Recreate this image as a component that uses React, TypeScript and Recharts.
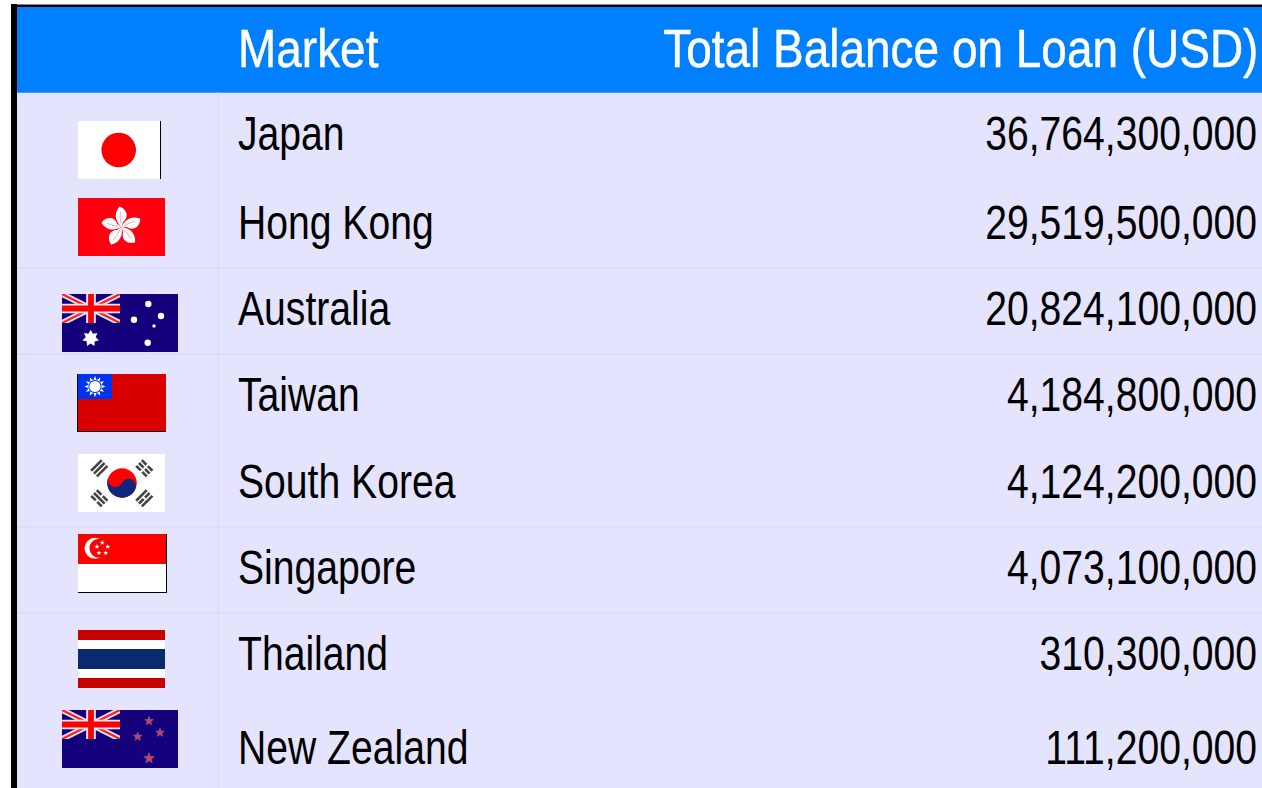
import React from 'react';
import { BarChart, Bar, XAxis, YAxis } from 'recharts';

const markets = ['Japan', 'Hong Kong', 'Australia', 'Taiwan', 'South Korea', 'Singapore', 'Thailand', 'New Zealand'];
const balances = [36764300000, 29519500000, 20824100000, 4184800000, 4124200000, 4073100000, 310300000, 111200000];

const tableData = markets.map((market, i) => ({ market, balance: balances[i] }));

const FONT = '"Liberation Sans", Arial, sans-serif';
const ROW_BG = '#E4E4FF';
const RULE = '#D6D6FA';
const NAVY = '#14007A';
// no narrow font on the box, so squeeze the regular one
const SQUEEZE = 0.815;
const HEAD_SQUEEZE = 0.851;

// the source table has uneven rows, these nudge things off the band centre
const TEXT_NUDGE = [14, 16, 15, 14, 14, 13, 12, 19];
const RULE_NUDGE = [0, 2, 1, 0, 0, -1, 0, 0];
const SHOW_RULE = [false, true, true, false, true, true, false, false];
const FLAG_BOX = [
  { x: 78, w: 83, dy: 14.5 },
  { x: 78, w: 87, dy: 4.5 },
  { x: 62, w: 116, dy: 13.5 },
  { x: 77, w: 89, dy: 6.5 },
  { x: 78, w: 87, dy: -0.5 },
  { x: 78, w: 89, dy: -7.5 },
  { x: 78, w: 87, dy: 1.5 },
  { x: 62, w: 116, dy: -5.5 },
];

const starPoints = (cx: number, cy: number, r: number, n = 5, inner = 0.42) => {
  const pts: string[] = [];
  for (let i = 0; i < n * 2; i++) {
    const rad = i % 2 === 0 ? r : r * inner;
    const a = -Math.PI / 2 + (i * Math.PI) / n;
    pts.push(`${cx + rad * Math.cos(a)},${cy + rad * Math.sin(a)}`);
  }
  return pts.join(' ');
};

const UnionJack = () => (
  <svg x={0} y={0} width={58} height={29} viewBox="0 0 60 30">
    <rect width={60} height={30} fill={NAVY} />
    <path d="M0,0 L60,30 M60,0 L0,30" stroke="#F4E6EE" strokeWidth={6} />
    <path d="M0,0 L60,30 M60,0 L0,30" stroke="#FF2020" strokeWidth={2.4} />
    <path d="M30,0 V30 M0,15 H60" stroke="#F4E6EE" strokeWidth={10} />
    <path d="M30,0 V30 M0,15 H60" stroke="#FF0000" strokeWidth={6} />
  </svg>
);

const Japan = () => (
  <>
    <rect width={82} height={58} fill="#fff" />
    <rect x={82} width={1} height={58} fill="#000" />
    <circle cx={40.7} cy={29} r={17.3} fill="#FF0000" />
  </>
);

const HongKong = () => (
  <>
    <rect width={87} height={58} fill="#FF0010" />
    <g transform="translate(43.5,29)">
      {[0, 1, 2, 3, 4].map(i => (
        <g key={i} transform={`rotate(${72 * i - 3})`}>
          <path d="M0,0 C-5,-5 -8,-13 -1,-20.5 C7,-17 8,-9 2,-5 Z" fill="#fff" />
          <path d="M0,-3 C-1,-8 -1,-12 0,-15" stroke="#F7A0B0" strokeWidth={0.9} fill="none" />
        </g>
      ))}
    </g>
  </>
);

const Australia = () => (
  <>
    <rect width={116} height={58} fill={NAVY} />
    <UnionJack />
    <polygon points={starPoints(28.7, 44.3, 8.5, 7, 0.6)} fill="#fff" />
    <circle cx={86.3} cy={10} r={3.2} fill="#fff" />
    <circle cx={72} cy={25.7} r={3.2} fill="#fff" />
    <circle cx={99} cy={22} r={3.2} fill="#fff" />
    <circle cx={92} cy={32} r={1.7} fill="#fff" />
    <circle cx={85.7} cy={48.7} r={3.2} fill="#fff" />
  </>
);

const Taiwan = () => (
  <>
    <rect width={89} height={58} fill="#D80000" />
    <rect x={1} width={34} height={25} fill="#0033EE" />
    <rect width={1} height={58} fill="#000" />
    <rect y={57} width={89} height={1} fill="#000" />
    <polygon points={starPoints(18, 12.5, 10.5, 12, 0.62)} fill="#fff" />
    <circle cx={18} cy={12.5} r={6.6} fill="#0033EE" />
    <circle cx={18} cy={12.5} r={5.6} fill="#fff" />
  </>
);

const TRIGRAMS = [
  { cx: 21.3, cy: 14.3, angle: -45, broken: [false, false, false] },
  { cx: 66.3, cy: 14.3, angle: 45, broken: [true, true, true] },
  { cx: 21.3, cy: 44.3, angle: 45, broken: [true, false, true] },
  { cx: 66.3, cy: 44.3, angle: -45, broken: [false, true, false] },
];

const SouthKorea = () => (
  <>
    <rect width={87} height={58} fill="#fff" />
    <g transform="rotate(25 44 29)">
      <circle cx={44} cy={29} r={14.7} fill="#FF0000" />
      <path d="M29.3,29 A14.7,14.7 0 0 0 58.7,29 A7.35,7.35 0 0 0 44,29 A7.35,7.35 0 0 1 29.3,29 Z" fill="#10267A" />
    </g>
    {TRIGRAMS.map((t, i) => (
      <g key={i} transform={`translate(${t.cx},${t.cy}) rotate(${t.angle})`}>
        {t.broken.map((b, j) => (
          <path key={j} d={`M-7.5,${j * 4 - 4} H7.5`} stroke="#444" strokeWidth={2.6} strokeDasharray={b ? '6.5 2 6.5' : undefined} />
        ))}
      </g>
    ))}
  </>
);

const Singapore = () => (
  <>
    <rect width={89} height={59} fill="#fff" />
    <rect width={89} height={30} fill="#FF0000" />
    <rect x={88} width={1} height={59} fill="#000" />
    <rect y={58} width={89} height={1} fill="#000" />
    <circle cx={17} cy={14.3} r={10.5} fill="#fff" />
    <circle cx={21} cy={14.3} r={9.5} fill="#FF0000" />
    {[[24.3, 8.7], [29.7, 12.7], [27.7, 19], [21, 19], [19, 12.7]].map(([cx, cy], i) => (
      <polygon key={i} points={starPoints(cx, cy, 2.6)} fill="#fff" />
    ))}
  </>
);

const Thailand = () => (
  <>
    <rect width={87} height={58} fill="#C80000" />
    <rect y={10} width={87} height={38} fill="#fff" />
    <rect y={19} width={87} height={20} fill="#0A2A70" />
  </>
);

const NewZealand = () => (
  <>
    <rect width={116} height={58} fill={NAVY} />
    <UnionJack />
    {[[87, 11, 4.5], [98, 22.7, 4.5], [75.7, 26.7, 4.5], [87, 48.3, 5.5]].map(([cx, cy, r], i) => (
      <polygon key={i} points={starPoints(cx, cy, r)} fill="#E83848" stroke="#7A5CA0" strokeWidth={0.8} />
    ))}
  </>
);

const FLAGS = [Japan, HongKong, Australia, Taiwan, SouthKorea, Singapore, Thailand, NewZealand];

// left axis tick: flag plus market name
const MarketTick = (props: any) => {
  const { y, payload, index } = props;
  const i = payload.index ?? index;
  const box = FLAG_BOX[i];
  const Flag = FLAGS[i];
  return (
    <g>
      <svg x={box.x} y={y + box.dy - 29} width={box.w} height={59} overflow="hidden">
        <Flag />
      </svg>
      <text
        transform={`translate(238,${y + TEXT_NUDGE[i]}) scale(${SQUEEZE},1)`}
        fontFamily={FONT}
        fontSize={48}
        fill="#000"
      >
        {payload.value}
      </text>
    </g>
  );
};

// no visible bar in the table, only the rule under the row and the amount
const BalanceCell = (props: any) => {
  const { y, height, index, payload } = props;
  const mid = y + height / 2;
  const ruleY = y + height + RULE_NUDGE[index];
  return (
    <g>
      {SHOW_RULE[index] && <line x1={17} x2={1262} y1={ruleY} y2={ruleY} stroke={RULE} strokeWidth={1} />}
      <text
        transform={`translate(1257,${mid + TEXT_NUDGE[index]}) scale(${SQUEEZE},1)`}
        textAnchor="end"
        fontFamily={FONT}
        fontSize={48}
        fill="#000"
      >
        {payload.balance.toLocaleString('en-US')}
      </text>
    </g>
  );
};

export default function App() {
  const headText: React.CSSProperties = {
    position: 'absolute',
    top: 10,
    lineHeight: '62px',
    whiteSpace: 'nowrap',
    WebkitTextStroke: '0.5px #fff',
  };
  return (
    <div style={{ position: 'absolute', left: 0, top: 0, width: 1262, height: 788, overflow: 'hidden', background: '#fff', fontFamily: FONT }}>
      <div style={{ position: 'absolute', left: 11, top: 4, right: 0, height: 1, background: '#888' }} />
      <div style={{ position: 'absolute', left: 11, top: 5, right: 0, height: 2, background: '#000' }} />
      <div style={{ position: 'absolute', left: 11, top: 4, width: 6, bottom: 0, background: '#000' }} />
      <div style={{ position: 'absolute', left: 17, top: 7, right: 0, height: 85, background: '#0080FF', color: '#fff', fontSize: 54 }}>
        <span style={{ ...headText, left: 221, transform: `scaleX(${HEAD_SQUEEZE})`, transformOrigin: 'left' }}>Market</span>
        <span style={{ ...headText, right: 4, transform: `scaleX(${HEAD_SQUEEZE})`, transformOrigin: 'right' }}>Total Balance on Loan (USD)</span>
      </div>
      <div style={{ position: 'absolute', left: 17, top: 92, right: 0, bottom: 0, background: ROW_BG, borderTop: '1px solid #3399FF', boxSizing: 'border-box' }} />
      <div style={{ position: 'absolute', left: 0, top: 92 }}>
        <BarChart
          width={1262}
          height={696}
          data={tableData}
          layout="vertical"
          barCategoryGap={0}
          margin={{ top: 0, right: 0, bottom: 0, left: 0 }}
        >
          <XAxis type="number" hide domain={[0, 40000000000]} />
          <YAxis
            type="category"
            dataKey="market"
            width={218}
            interval={0}
            tickLine={false}
            axisLine={{ stroke: RULE }}
            tick={MarketTick}
          />
          <Bar dataKey="balance" isAnimationActive={false} shape={BalanceCell} />
        </BarChart>
      </div>
    </div>
  );
}
